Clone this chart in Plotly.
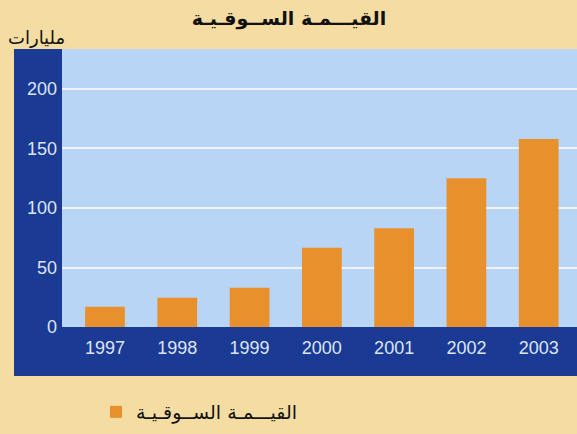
import plotly.graph_objects as go

years = ["1997", "1998", "1999", "2000", "2001", "2002", "2003"]
market_value = [17, 24.6, 33, 66.6, 83, 125, 158]
y_ticks = [0, 50, 100, 150, 200]

title_text = "القيـــمـة الســوقـيـة"
unit_text = "مليارات"
series_name = "القيـــمـة الســوقـيـة"

W, H = 577, 434
L, R, T, B = 62, 0, 49, 107
pw, ph = W - L - R, H - T - B

def px_x(x):
    return (x - L) / pw

def px_y(y):
    return (H - B - y) / ph

fig = go.Figure()
fig.add_trace(go.Bar(
    x=years, y=market_value, name=series_name,
    marker=dict(color="#E8902C", line=dict(width=0)),
    width=0.55, showlegend=True,
))

fig.update_layout(
    width=W, height=H,
    margin=dict(l=L, r=R, t=T, b=B),
    paper_bgcolor="#F4DCA3",
    plot_bgcolor="rgba(0,0,0,0)",
    title=dict(text=title_text, x=289 / W, xref="container", xanchor="center",
               y=1 - 18 / H, yref="container", yanchor="middle",
               font=dict(family="DejaVu Sans", size=19, color="#111", weight="bold")),
    xaxis=dict(range=[-0.595, 6.53], showgrid=False, zeroline=False, showline=False,
               ticks="", ticklabelstandoff=8,
               tickfont=dict(family="Liberation Sans", size=18, color="#DCE5F5")),
    yaxis=dict(range=[0, 233.6], tickvals=y_ticks, showgrid=True,
               gridcolor="#EEF4FF", gridwidth=2, zeroline=False, showline=False,
               ticks="", ticklabelstandoff=4,
               tickfont=dict(family="Liberation Sans", size=18, color="#DCE5F5")),
    legend=dict(x=px_x(96), y=px_y(412), xanchor="left", yanchor="middle",
                bgcolor="rgba(0,0,0,0)", font=dict(family="DejaVu Sans", size=19, color="#111"),
                itemwidth=30),
    shapes=[
        dict(type="rect", xref="paper", yref="paper", layer="below",
             x0=px_x(14), x1=1, y0=px_y(376), y1=1,
             fillcolor="#1B3A93", line=dict(width=0)),
        dict(type="rect", xref="paper", yref="paper", layer="below",
             x0=0, x1=1, y0=0, y1=1,
             fillcolor="#B9D5F6", line=dict(width=0)),
    ],
    annotations=[
        dict(text=unit_text, xref="paper", yref="paper", x=px_x(36), y=px_y(37),
             xanchor="center", yanchor="middle", showarrow=False,
             font=dict(family="DejaVu Sans", size=18, color="#111")),
    ],
)

fig.write_html("out.html", config={"displayModeBar": False},
               post_script="document.body.style.margin='0';")
